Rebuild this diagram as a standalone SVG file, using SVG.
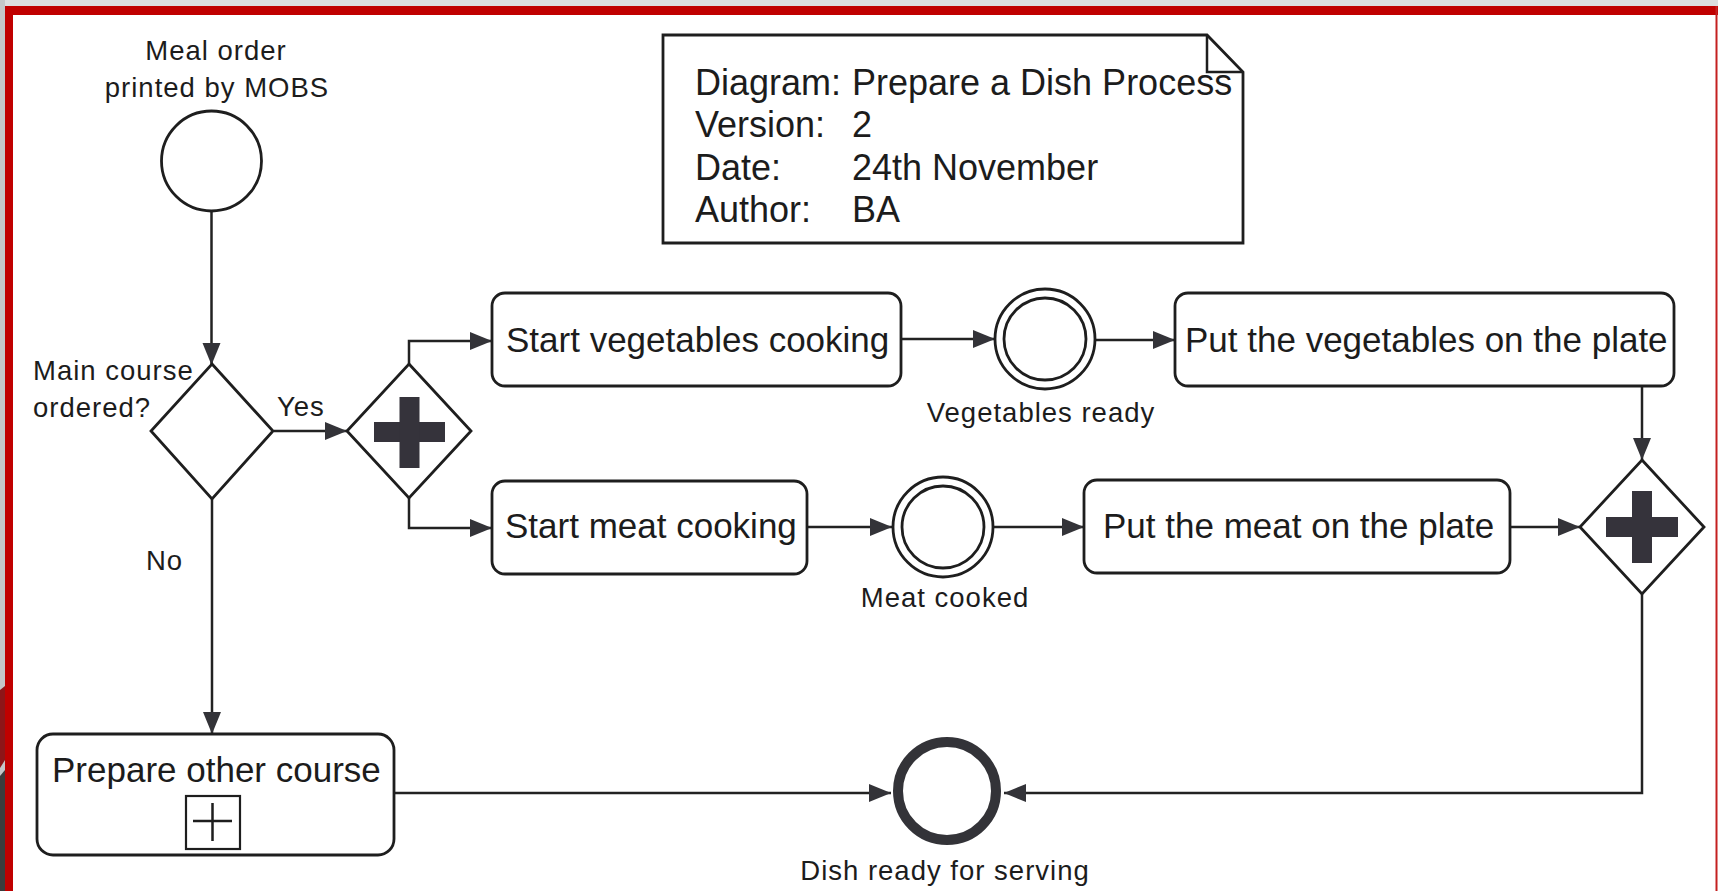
<svg xmlns="http://www.w3.org/2000/svg" width="1718" height="891" viewBox="0 0 1718 891">
  <style>
    .line { fill: none; stroke: #222; stroke-width: 2.5; }
    .shape { fill: #fff; stroke: #1e1e1e; stroke-width: 2.8; }
    .task { font-family: "Liberation Sans", Arial, sans-serif; font-size: 35px; fill: #1c1c1c; }
    .label { font-family: "Liberation Sans", Arial, sans-serif; font-size: 27.5px; letter-spacing: 1px; fill: #1c1c1c; }
    .note { font-family: "Liberation Sans", Arial, sans-serif; font-size: 36px; fill: #1c1c1c; }
    .plus { fill: #35333b; }
  </style>
  <defs>
    <marker id="arrow" markerUnits="userSpaceOnUse" markerWidth="24" markerHeight="20" refX="22" refY="10" orient="auto">
      <path d="M0,1 L22,10 L0,19 z" fill="#333338"/>
    </marker>
  </defs>

  <!-- page frame -->
  <g id="frame">
    <rect x="0" y="0" width="1718" height="891" fill="#ffffff"/>
    <rect x="0" y="0" width="1718" height="7" fill="#dcdedf"/>
    <rect x="0" y="0" width="5" height="891" fill="#c4c7c9"/>
    <polygon points="0,690 5,686 5,760 0,768" fill="#8e1518"/>
    <polygon points="0,776 5,770 5,891 0,891" fill="#3c3c3c"/>
    <rect x="5" y="6" width="1713" height="9" fill="#c00000"/>
    <rect x="5" y="6" width="8" height="885" fill="#c00000"/>
    <rect x="1715.5" y="6" width="2" height="885" fill="#c42020"/>
  </g>

  <!-- connectors -->
  <g id="connectors">
    <path class="line" d="M211.5,211 L211.5,365" marker-end="url(#arrow)"/>
    <path class="line" d="M274,431 L347,431" marker-end="url(#arrow)"/>
    <path class="line" d="M409,364 L409,341 L492,341" marker-end="url(#arrow)"/>
    <path class="line" d="M409,498 L409,528 L492,528" marker-end="url(#arrow)"/>
    <path class="line" d="M901,339 L995,339" marker-end="url(#arrow)"/>
    <path class="line" d="M1095,340 L1175,340" marker-end="url(#arrow)"/>
    <path class="line" d="M807,527 L892,527" marker-end="url(#arrow)"/>
    <path class="line" d="M994,527 L1084,527" marker-end="url(#arrow)"/>
    <path class="line" d="M1642,386 L1642,460" marker-end="url(#arrow)"/>
    <path class="line" d="M1510,527 L1580,527" marker-end="url(#arrow)"/>
    <path class="line" d="M1642,594 L1642,793 L1004,793" marker-end="url(#arrow)"/>
    <path class="line" d="M212,499 L212,734" marker-end="url(#arrow)"/>
    <path class="line" d="M394,793 L891,793" marker-end="url(#arrow)"/>
    <text class="label" x="277" y="416">Yes</text>
    <text class="label" x="146" y="570">No</text>
  </g>

  <!-- start event -->
  <g id="meal-order-printed">
    <circle class="shape" cx="211.5" cy="161" r="50" stroke-width="2.5"/>
    <text class="label" x="216" y="60" text-anchor="middle">Meal order</text>
    <text class="label" x="217" y="97" text-anchor="middle">printed by MOBS</text>
  </g>

  <!-- exclusive decision -->
  <g id="main-course-ordered">
    <polygon class="shape" points="212,364 273,431 212,499 151,431"/>
    <text class="label" x="33" y="380">Main course</text>
    <text class="label" x="33" y="417">ordered?</text>
  </g>

  <!-- parallel split -->
  <g id="split-gateway">
    <polygon class="shape" points="409,364 471,431 409,498 347,431"/>
    <rect class="plus" x="374" y="422" width="71" height="20"/>
    <rect class="plus" x="399.5" y="397" width="20" height="71"/>
  </g>

  <g id="start-vegetables-cooking">
    <rect class="shape" x="492" y="293" width="409" height="93" rx="13"/>
    <text class="task" x="506" y="352">Start vegetables cooking</text>
  </g>

  <g id="start-meat-cooking">
    <rect class="shape" x="492" y="481" width="315" height="93" rx="13"/>
    <text class="task" x="505" y="538">Start meat cooking</text>
  </g>

  <g id="vegetables-ready">
    <circle class="shape" cx="1045" cy="339" r="50" stroke-width="2.5"/>
    <circle class="shape" cx="1045" cy="339" r="41" stroke-width="2.5"/>
    <text class="label" x="1041" y="422" text-anchor="middle">Vegetables ready</text>
  </g>

  <g id="meat-cooked">
    <circle class="shape" cx="943" cy="527" r="50" stroke-width="2.5"/>
    <circle class="shape" cx="943" cy="527" r="41" stroke-width="2.5"/>
    <text class="label" x="945" y="607" text-anchor="middle">Meat cooked</text>
  </g>

  <g id="put-vegetables-on-plate">
    <rect class="shape" x="1175" y="293" width="499" height="93" rx="13"/>
    <text class="task" x="1185" y="352">Put the vegetables on the plate</text>
  </g>

  <g id="put-meat-on-plate">
    <rect class="shape" x="1084" y="480" width="426" height="93" rx="13"/>
    <text class="task" x="1103" y="538">Put the meat on the plate</text>
  </g>

  <!-- parallel join -->
  <g id="join-gateway">
    <polygon class="shape" points="1642,460 1704,527 1642,594 1580,527"/>
    <rect class="plus" x="1606" y="517" width="72" height="20"/>
    <rect class="plus" x="1632" y="491" width="20" height="72"/>
  </g>

  <!-- collapsed sub-process -->
  <g id="prepare-other-course">
    <rect class="shape" x="37" y="734" width="357" height="121" rx="16"/>
    <text class="task" x="52" y="782">Prepare other course</text>
    <rect x="186" y="796" width="54" height="53" fill="#fff" stroke="#1e1e1e" stroke-width="2.2"/>
    <path d="M193,821 L232,821 M212.5,803 L212.5,841" stroke="#1e1e1e" stroke-width="2.5" fill="none"/>
  </g>

  <!-- end event -->
  <g id="dish-ready-for-serving">
    <circle cx="947" cy="791" r="49" fill="#fff" stroke="#333338" stroke-width="10"/>
    <text class="label" x="945" y="880" text-anchor="middle">Dish ready for serving</text>
  </g>

  <!-- annotation -->
  <g id="diagram-info">
    <path class="shape" d="M663,35 L1207,35 L1243,72 L1243,243 L663,243 Z"/>
    <path d="M1207,35 L1207,72 L1243,72" fill="none" stroke="#1e1e1e" stroke-width="2.5"/>
    <text class="note" x="695" y="95">Diagram:</text>
    <text class="note" x="852" y="95">Prepare a Dish Process</text>
    <text class="note" x="695" y="137">Version:</text>
    <text class="note" x="852" y="137">2</text>
    <text class="note" x="695" y="180">Date:</text>
    <text class="note" x="852" y="180">24th November</text>
    <text class="note" x="695" y="222">Author:</text>
    <text class="note" x="852" y="222">BA</text>
  </g>
</svg>
